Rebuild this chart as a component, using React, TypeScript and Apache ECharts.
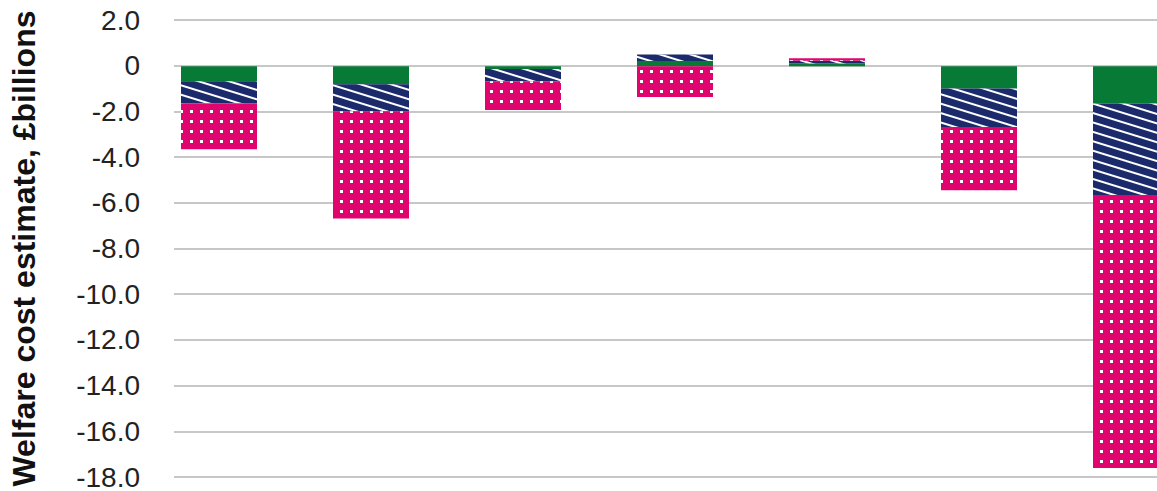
import React, { useEffect, useRef } from "react";
import * as echarts from "echarts";

// Groups along the horizontal axis (no labels are shown in the chart)
const categories = ["1", "2", "3", "4", "5", "6", "7"];
// Stacked components, £billions
const greenValues = [-0.65, -0.78, -0.12, 0.23, 0.12, -0.97, -1.62];
const navyValues = [-0.97, -1.17, -0.53, 0.28, 0.12, -1.66, -3.96];
const pinkValues = [-1.98, -4.64, -1.25, -1.33, 0.1, -2.74, -11.81];
// Y axis ticks
const yMin = -18;
const yMax = 2;
const yStep = 2;

const GREEN = "#077a35";
const NAVY = "#1b2a6b";
const PINK = "#e0046f";

export default function App() {
  const ref = useRef<HTMLDivElement>(null);
  useEffect(() => {
    if (!ref.current) return;
    const chart = echarts.init(ref.current, undefined, { renderer: "svg" });
    const hiddenY = {
      type: "value",
      gridIndex: 1,
      min: yMin,
      max: yMax,
      interval: yStep,
      show: false,
      splitLine: { show: false },
    };
    chart.setOption({
      animation: false,
      grid: [
        { left: 171, right: 0, top: 20, bottom: 9 },
        { left: 143, right: 0, top: 20, bottom: 9 },
      ],
      xAxis: [
        { type: "value", gridIndex: 0, min: 0, max: 1, show: false, splitLine: { show: false } },
        { type: "category", gridIndex: 1, data: categories, show: false },
      ],
      yAxis: [
        {
          type: "value",
          gridIndex: 0,
          min: yMin,
          max: yMax,
          interval: yStep,
          name: "Welfare cost estimate, £billions",
          nameLocation: "middle",
          nameGap: 134,
          nameTextStyle: {
            fontFamily: "Liberation Sans",
            fontWeight: "bold",
            fontSize: 32,
            color: "#111",
          },
          axisLine: { show: false },
          axisTick: { show: false },
          axisLabel: {
            margin: 34,
            fontFamily: "Liberation Sans",
            fontSize: 28,
            color: "#222",
            formatter: (v: number) => (v === 0 ? "0" : v.toFixed(1)),
          },
          splitLine: { lineStyle: { color: "#b5b5b5", width: 1.5 } },
        },
        hiddenY,
      ],
      series: [
        {
          type: "bar",
          xAxisIndex: 1,
          yAxisIndex: 1,
          stack: "total",
          barWidth: 76,
          data: greenValues,
          itemStyle: { color: GREEN },
        },
        {
          type: "bar",
          xAxisIndex: 1,
          yAxisIndex: 1,
          stack: "total",
          barWidth: 76,
          data: navyValues,
          itemStyle: {
            color: NAVY,
            decal: {
              symbol: "rect",
              color: "#ffffff",
              dashArrayX: [1, 0],
              dashArrayY: [2, 6.4],
              rotation: 0.3,
              symbolSize: 1,
            },
          },
        },
        {
          type: "bar",
          xAxisIndex: 1,
          yAxisIndex: 1,
          stack: "total",
          barWidth: 76,
          data: pinkValues,
          itemStyle: {
            color: PINK,
            decal: {
              symbol: "rect",
              color: "#ffffff",
              dashArrayX: [2.5, 6.2],
              dashArrayY: [2.5, 6.2],
              rotation: 0,
              symbolSize: 1,
            },
          },
        },
      ],
    });
    return () => chart.dispose();
  }, []);
  return (
    <div
      style={{
        position: "absolute",
        left: 0,
        top: 0,
        width: 1157,
        height: 491,
        overflow: "hidden",
        background: "#fff",
      }}
    >
      <div ref={ref} style={{ width: 1207, height: 491 }} />
    </div>
  );
}
